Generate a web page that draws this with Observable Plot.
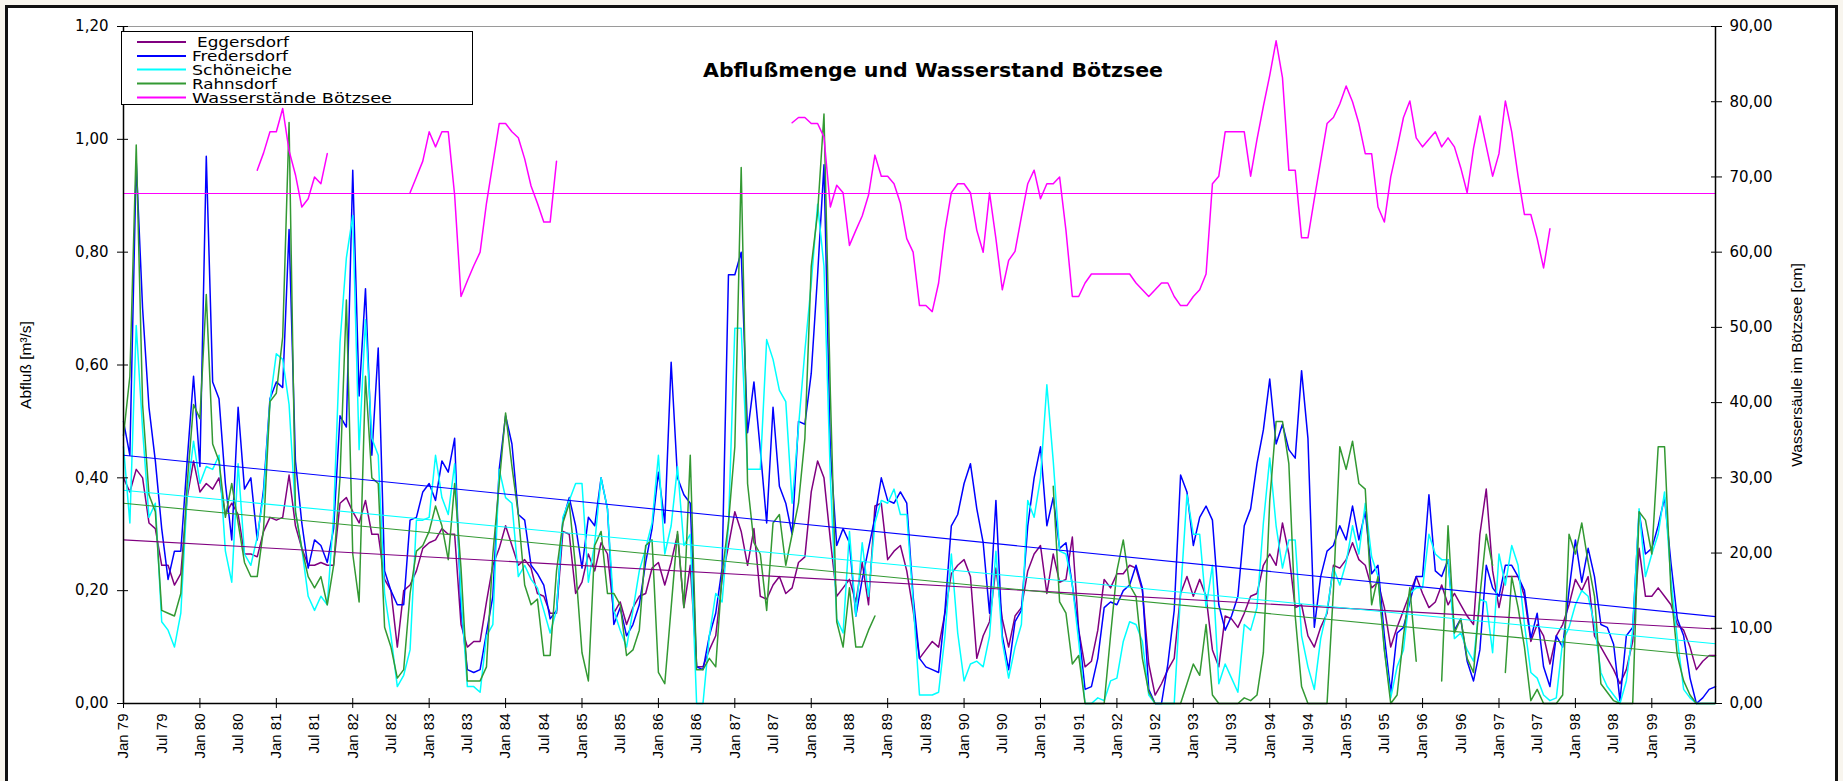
<!DOCTYPE html>
<html>
<head>
<meta charset="utf-8">
<script src="https://cdn.jsdelivr.net/npm/d3@7"></script>
<script src="https://cdn.jsdelivr.net/npm/@observablehq/plot@0.6"></script>
<style>
  html, body { margin: 0; padding: 0; width: 1843px; height: 781px; overflow: hidden; background: #f8f5ee; }
  #frame { position: absolute; left: 5px; top: 5px; width: 1833px; height: 900px; box-sizing: border-box; border: 3px solid #111; background: #fff; }
  #chart { position: absolute; left: 0; top: 0; }
  #overlay { position: absolute; left: 0; top: 0; }
</style>
</head>
<body>
<div id="frame"></div>
<div id="chart"></div>
<script>
// ---------------- data (monthly, Jan 79 .. Nov 99) ----------------
const title = "Abflußmenge und Wasserstand Bötzsee";
const yTitleLeft = "Abfluß [m³/s]";
const yTitleRight = "Wassersäule im Bötzsee [cm]";
const seriesNames = [" Eggersdorf", "Fredersdorf", "Schöneiche", "Rahnsdorf", "Wasserstände Bötzsee"];
const seriesColors = ["#800080", "#0000ff", "#00ffff", "#339933", "#ff00ff"];

const xTickLabels = ["Jan 79","Jul 79","Jan 80","Jul 80","Jan 81","Jul 81","Jan 82","Jul 82","Jan 83","Jul 83",
  "Jan 84","Jul 84","Jan 85","Jul 85","Jan 86","Jul 86","Jan 87","Jul 87","Jan 88","Jul 88","Jan 89","Jul 89",
  "Jan 90","Jul 90","Jan 91","Jul 91","Jan 92","Jul 92","Jan 93","Jul 93","Jan 94","Jul 94","Jan 95","Jul 95",
  "Jan 96","Jul 96","Jan 97","Jul 97","Jan 98","Jul 98","Jan 99","Jul 99"];
const yTicksLeft = [0, 0.2, 0.4, 0.6, 0.8, 1.0, 1.2];
const yTicksRight = [0, 10, 20, 30, 40, 50, 60, 70, 80, 90];

const eggersdorf = [
  0.40,0.375,0.415,0.40,0.32,0.31,0.245,0.245,0.21,0.23,0.365,0.43,
  0.375,0.39,0.38,0.40,0.335,0.355,0.335,0.265,0.265,0.26,0.305,0.33,
  0.325,0.33,0.405,0.315,0.275,0.245,0.245,0.25,0.245,0.245,0.355,0.365,
  0.34,0.32,0.36,0.30,0.30,0.22,0.20,0.10,0.20,0.21,0.235,0.275,
  0.285,0.29,0.31,0.30,0.30,0.14,0.10,0.11,0.11,0.18,0.245,0.275,
  0.315,0.28,0.245,0.255,0.24,0.195,0.19,0.16,0.16,0.305,0.30,0.195,
  0.215,0.265,0.235,0.285,0.265,0.16,0.18,0.14,0.17,0.19,0.195,0.24,
  0.25,0.21,0.25,0.30,0.17,0.245,0.065,0.065,0.095,0.12,0.22,0.28,
  0.34,0.305,0.245,0.31,0.19,0.185,0.21,0.225,0.195,0.205,0.25,0.26,
  0.375,0.43,0.40,0.29,0.19,0.205,0.22,0.18,0.25,0.175,0.35,0.355,
  0.255,0.27,0.28,0.235,0.165,0.08,0.095,0.11,0.10,0.16,0.23,0.245,
  0.255,0.225,0.08,0.12,0.145,0.24,0.15,0.10,0.155,0.17,0.235,0.265,
  0.28,0.195,0.265,0.215,0.22,0.295,0.13,0.065,0.075,0.13,0.22,0.205,
  0.23,0.23,0.245,0.24,0.20,0.07,0.015,0.035,0.06,0.08,0.195,0.225,
  0.19,0.22,0.19,0.095,0.065,0.155,0.15,0.135,0.16,0.19,0.195,0.245,
  0.265,0.245,0.32,0.265,0.17,0.175,0.12,0.10,0.135,0.16,0.245,0.24,
  0.255,0.285,0.255,0.245,0.205,0.215,0.17,0.10,0.135,0.165,0.195,0.225,
  0.195,0.17,0.18,0.21,0.175,0.195,0.175,0.155,0.14,0.30,0.38,0.235,
  0.17,0.225,0.225,0.225,0.19,0.11,0.14,0.12,0.07,0.12,0.14,0.175,
  0.22,0.20,0.225,0.12,0.10,0.08,0.06,0.035,0.06,0.11,0.275,0.19,
  0.19,0.205,0.19,0.175,0.14,0.13,0.10,0.06,0.075,0.085,0.085
];
const fredersdorf = [
  0.50,0.44,0.96,0.70,0.525,0.43,0.31,0.22,0.27,0.27,0.43,0.58,
  0.42,0.97,0.57,0.54,0.39,0.29,0.525,0.38,0.40,0.29,0.38,0.54,
  0.57,0.56,0.84,0.43,0.32,0.24,0.29,0.28,0.25,0.31,0.51,0.49,
  0.945,0.545,0.735,0.44,0.63,0.235,0.20,0.175,0.175,0.325,0.33,0.375,
  0.39,0.36,0.43,0.41,0.47,0.165,0.06,0.055,0.06,0.125,0.19,0.415,
  0.51,0.46,0.335,0.325,0.245,0.23,0.21,0.15,0.165,0.325,0.365,0.315,
  0.24,0.33,0.315,0.40,0.345,0.14,0.17,0.12,0.14,0.175,0.25,0.31,
  0.41,0.32,0.605,0.40,0.37,0.355,0.065,0.06,0.12,0.16,0.24,0.76,
  0.76,0.80,0.48,0.57,0.45,0.32,0.525,0.385,0.355,0.30,0.50,0.495,
  0.585,0.76,0.955,0.45,0.28,0.31,0.285,0.155,0.22,0.275,0.33,0.40,
  0.36,0.355,0.375,0.355,0.19,0.08,0.065,0.06,0.055,0.165,0.315,0.335,
  0.39,0.425,0.345,0.285,0.16,0.36,0.12,0.06,0.145,0.165,0.315,0.40,
  0.455,0.315,0.365,0.275,0.285,0.21,0.13,0.025,0.03,0.08,0.17,0.18,
  0.175,0.20,0.21,0.245,0.205,0.025,0,0,0.07,0.165,0.405,0.375,
  0.28,0.33,0.35,0.325,0.175,0.13,0.155,0.19,0.315,0.345,0.425,0.485,
  0.575,0.46,0.495,0.45,0.435,0.59,0.47,0.135,0.225,0.27,0.28,0.315,
  0.29,0.35,0.29,0.34,0.23,0.245,0.12,0.02,0.125,0.135,0.18,0.225,
  0.225,0.37,0.235,0.225,0.255,0.13,0.15,0.075,0.04,0.095,0.245,0.205,
  0.19,0.245,0.245,0.225,0.20,0.115,0.16,0.065,0.03,0.12,0.10,0.20,
  0.29,0.215,0.275,0.225,0.14,0.135,0.105,0.005,0.12,0.135,0.34,0.265,
  0.275,0.315,0.365,0.25,0.15,0.12,0.045,0,0.01,0.025,0.03
];
const schoeneiche = [
  0.455,0.32,0.67,0.485,0.33,0.355,0.145,0.13,0.10,0.16,0.37,0.465,
  0.39,0.42,0.415,0.44,0.27,0.215,0.425,0.265,0.245,0.295,0.37,0.535,
  0.62,0.61,0.53,0.34,0.275,0.19,0.165,0.19,0.175,0.335,0.64,0.79,
  0.865,0.45,0.68,0.47,0.44,0.195,0.12,0.03,0.05,0.095,0.325,0.325,
  0.33,0.44,0.365,0.335,0.425,0.19,0.03,0.03,0.02,0.12,0.14,0.415,
  0.365,0.355,0.225,0.245,0.22,0.205,0.165,0.125,0.165,0.33,0.36,0.39,
  0.39,0.215,0.285,0.40,0.345,0.165,0.13,0.10,0.165,0.235,0.275,0.32,
  0.44,0.265,0.315,0.42,0.28,0.30,0,0,0.12,0.195,0.18,0.315,
  0.665,0.665,0.415,0.415,0.415,0.645,0.61,0.555,0.535,0.355,0.49,0.625,
  0.745,0.885,0.775,0.40,0.15,0.125,0.305,0.155,0.285,0.19,0.32,0.36,
  0.355,0.38,0.335,0.335,0.18,0.015,0.015,0.015,0.02,0.12,0.265,0.125,
  0.04,0.07,0.075,0.065,0.12,0.27,0.11,0.045,0.10,0.14,0.36,0.33,
  0.40,0.565,0.43,0.27,0.265,0.21,0.11,0,0,0.01,0.005,0.04,
  0.045,0.11,0.145,0.14,0.11,0.015,0,0,0,0,0.195,0.37,
  0.30,0.30,0.17,0.245,0.035,0.07,0.045,0.02,0.14,0.13,0.17,0.32,
  0.435,0.315,0.24,0.29,0.29,0.12,0.065,0.025,0.115,0.165,0.24,0.21,
  0.25,0.315,0.265,0.355,0.26,0.225,0.095,0.01,0.065,0.095,0.195,0.205,
  0.205,0.30,0.265,0.255,0.255,0.115,0.125,0.095,0.075,0.185,0.18,0.09,
  0.265,0.21,0.28,0.245,0.14,0.055,0.045,0.015,0.005,0.01,0.11,0.135,
  0.175,0.20,0.19,0.14,0.055,0.03,0.015,0,0.04,0.13,0.345,0.225,
  0.265,0.30,0.375,0.22,0.115,0.025,0.01,0,0,0,0
];
const rahnsdorf = [
  0.475,0.58,0.99,0.53,0.37,0.34,0.165,0.16,0.155,0.195,0.39,0.53,
  0.505,0.725,0.46,0.43,0.33,0.39,0.32,0.25,0.225,0.225,0.31,0.535,
  0.55,0.65,1.03,0.34,0.275,0.225,0.205,0.225,0.175,0.245,0.40,0.715,
  0.265,0.18,0.58,0.40,0.39,0.135,0.10,0.045,0.06,0.195,0.27,0.28,
  0.305,0.35,0.315,0.255,0.39,0.24,0.04,0.04,0.04,0.065,0.265,0.39,
  0.515,0.42,0.335,0.21,0.175,0.185,0.085,0.085,0.235,0.32,0.355,0.24,
  0.09,0.04,0.28,0.305,0.195,0.195,0.175,0.085,0.095,0.13,0.28,0.29,
  0.055,0.035,0.17,0.305,0.17,0.44,0.06,0.06,0.08,0.065,0.23,0.32,
  0.455,0.95,0.39,0.285,0.265,0.165,0.32,0.335,0.245,0.30,0.355,0.47,
  0.775,0.87,1.045,0.55,0.145,0.10,0.205,0.10,0.10,0.13,0.155,null,
  null,null,null,null,null,null,null,null,null,null,null,null,
  null,null,null,null,null,null,null,null,null,null,null,null,
  null,null,0.385,0.18,0.16,0.07,0.085,0,0,0,0,0.12,
  0.235,0.29,0.21,0.19,0.08,0.02,0,0,0,0,0,0.035,
  0.07,0.05,0.14,0.015,0,0,0,0,0.01,0.005,0.015,0.09,
  0.36,0.50,0.50,0.425,0.155,0.03,0,0,0,0,0.20,0.455,
  0.415,0.465,0.39,0.38,0.175,0.225,0.095,0,0.015,0.12,0.205,0.075,
  null,null,null,0.04,0.315,0.125,0.15,0.08,0.055,0.19,0.30,0.245,
  null,0.055,0.225,0.17,0.10,0.005,0.025,0,0,0,0.015,0.30,
  0.265,0.32,0.25,0.19,0.035,0.02,0.005,0,0,0,0.34,0.325,
  0.265,0.455,0.455,0.20,0.085,0.04,0.015,0,0,0,0
];
// water level of the Bötzsee in cm (right axis); gaps where no readings
const boetzsee = [
  null,null,null,null,null,null,null,null,null,null,null,null,
  null,null,null,null,null,null,null,null,null,70.9,73.2,76.0,
  76.0,79.1,73.5,70.3,66.0,67.1,70.0,69.1,73.1,null,null,null,
  null,null,null,null,null,null,null,null,null,67.9,70.0,72.1,
  76.0,74.0,76.0,76.0,67.6,54.1,56.2,58.2,60.0,66.5,71.8,77.1,
  77.1,76.0,75.2,72.4,68.8,66.5,64.0,64.0,72.1,null,null,null,
  null,null,null,null,null,null,null,null,null,null,null,null,
  null,null,null,null,null,null,null,null,null,null,null,null,
  null,null,null,null,null,null,null,null,null,77.2,77.9,77.9,
  77.1,77.1,75.3,66.0,68.9,67.9,60.9,62.9,64.8,67.6,72.9,70.1,
  70.1,69.1,66.5,61.8,60.0,52.9,52.9,52.1,55.9,62.9,67.9,69.1,
  69.1,67.9,62.9,60.0,67.9,61.8,55.0,58.9,60.1,64.7,69.1,70.9,
  67.1,69.1,69.1,70.0,62.9,54.1,54.1,55.9,57.1,57.1,57.1,57.1,
  57.1,57.1,57.1,55.9,55.0,54.1,55.0,55.9,55.9,54.1,52.9,52.9,
  54.1,55.0,57.1,69.1,70.1,76.0,76.0,76.0,76.0,70.1,75.0,79.4,
  83.5,88.1,83.2,70.9,70.9,61.9,61.9,67.1,72.1,77.1,77.9,79.7,
  82.1,80.0,77.1,73.1,73.1,66.0,64.0,70.0,73.8,77.9,80.1,75.2,
  74.0,75.0,76.0,74.0,75.2,74.0,71.2,67.9,73.8,78.1,74.1,70.1,
  73.1,80.1,76.0,70.1,65.0,65.0,61.8,57.9,63.1,null,null,null,
  null,null,null,null,null,null,null,null,null,null,null,null,
  null,null,null,null,null,null,null,null,null,null,null
];
// trend lines (value at first month, value at last month)
const trendEggersdorf = [0.29, 0.132];
const trendFredersdorf = [0.44, 0.154];
const trendSchoeneiche = [0.378, 0.106];
const trendRahnsdorf = [0.355, 0.083];
const meanBoetzsee = [67.8, 67.8];

// ---------------- build ----------------
const N = 251;
const series = [eggersdorf, fredersdorf, schoeneiche, rahnsdorf, boetzsee];
series.forEach((s, k) => { if (s.length !== N) throw new Error(seriesNames[k] + " has " + s.length); });

const W = 1843, H = 781;
const cmToY = 1.2 / 90;
const fmt2 = d => d.toFixed(2).replace(".", ",");
const rows = (arr, s) => arr.map((v, i) => ({i, v: v == null ? NaN : v * s}));
const trendRows = (t, s) => [{i: 0, v: t[0] * s}, {i: N - 1, v: t[1] * s}];

const lineMarks = [
  Plot.line(rows(eggersdorf, 1), {x: "i", y: "v", stroke: seriesColors[0], strokeWidth: 1.5}),
  Plot.line(rows(fredersdorf, 1), {x: "i", y: "v", stroke: seriesColors[1], strokeWidth: 1.5}),
  Plot.line(rows(schoeneiche, 1), {x: "i", y: "v", stroke: seriesColors[2], strokeWidth: 1.5}),
  Plot.line(rows(rahnsdorf, 1), {x: "i", y: "v", stroke: seriesColors[3], strokeWidth: 1.5}),
  Plot.line(rows(boetzsee, cmToY), {x: "i", y: "v", stroke: seriesColors[4], strokeWidth: 1.5}),
  Plot.line(trendRows(trendEggersdorf, 1), {x: "i", y: "v", stroke: seriesColors[0], strokeWidth: 1.1}),
  Plot.line(trendRows(trendFredersdorf, 1), {x: "i", y: "v", stroke: seriesColors[1], strokeWidth: 1.1}),
  Plot.line(trendRows(trendSchoeneiche, 1), {x: "i", y: "v", stroke: seriesColors[2], strokeWidth: 1.1}),
  Plot.line(trendRows(trendRahnsdorf, 1), {x: "i", y: "v", stroke: seriesColors[3], strokeWidth: 1.1}),
  Plot.line(trendRows(meanBoetzsee, cmToY), {x: "i", y: "v", stroke: seriesColors[4], strokeWidth: 1.1})
];

const yearTicks = d3.range(0, N, 12);
const labelTicks = d3.range(0, N, 6);

const plot = Plot.plot({
  width: W, height: H,
  marginLeft: 123, marginRight: 128, marginTop: 26, marginBottom: 78,
  style: {background: "transparent", fontFamily: "DejaVu Sans", fontSize: "15px", color: "#000", overflow: "visible"},
  x: {type: "linear", domain: [0, N - 1], axis: null},
  y: {type: "linear", domain: [0, 1.2], axis: null},
  marks: [
    Plot.ruleY([1.2], {stroke: "#9a9a9a", strokeWidth: 1}),
    ...lineMarks,
    Plot.ruleX([0], {stroke: "#000", strokeWidth: 1.5}),
    Plot.ruleX([N - 1], {stroke: "#000", strokeWidth: 1.5}),
    Plot.ruleY([0], {stroke: "#000", strokeWidth: 1.5}),
    // tick marks (crossing the axis lines)
    Plot.axisY(yTicksLeft, {anchor: "left", label: null, tickSize: 11, dx: 5, tickFormat: () => "", stroke: "#000"}),
    Plot.axisY(yTicksRight.map(v => v * cmToY), {anchor: "right", label: null, tickSize: 11, dx: -5, tickFormat: () => "", stroke: "#000"}),
    Plot.axisX(yearTicks, {anchor: "bottom", label: null, tickSize: 10, dy: -5, tickFormat: () => "", stroke: "#000"}),
    // tick labels
    Plot.axisY(yTicksLeft, {anchor: "left", label: null, tickSize: 0, tickPadding: 15, tickFormat: fmt2,
      fontFamily: "DejaVu Sans", fontSize: 15, fill: "#000"}),
    Plot.axisY(yTicksRight.map(v => v * cmToY), {anchor: "right", label: null, tickSize: 0, tickPadding: 14,
      tickFormat: d => fmt2(Math.round(d / cmToY)), fontFamily: "DejaVu Sans", fontSize: 15, fill: "#000"}),
    Plot.axisX(labelTicks, {anchor: "bottom", label: null, tickSize: 0, tickPadding: 10, tickRotate: -90,
      tickFormat: d => xTickLabels[d / 6], fontFamily: "Liberation Sans", fontSize: 15, fill: "#000"}),
    // axis titles
    Plot.text([yTitleLeft], {text: d => d, frameAnchor: "left", dx: -97, rotate: -90, textAnchor: "middle",
      fontFamily: "Liberation Sans", fontSize: 15.5, fill: "#000"}),
    Plot.text([yTitleRight], {text: d => d, frameAnchor: "right", dx: 82, rotate: -90, textAnchor: "middle",
      fontFamily: "Liberation Sans", fontSize: 15.5, fill: "#000"})
  ]
});
document.getElementById("chart").appendChild(plot);

// ---------------- title and legend (overlay) ----------------
const ov = d3.select("body").append("svg").attr("id", "overlay")
  .attr("width", W).attr("height", H);
ov.append("text").attr("x", 933).attr("y", 77).attr("text-anchor", "middle")
  .attr("font-family", "DejaVu Sans").attr("font-weight", "bold").attr("font-size", 19.5)
  .attr("textLength", 460).attr("lengthAdjust", "spacingAndGlyphs")
  .attr("fill", "#000").text(title);

const lg = ov.append("g");
lg.append("rect").attr("x", 121.5).attr("y", 31.5).attr("width", 351).attr("height", 73)
  .attr("fill", "#fff").attr("stroke", "#000").attr("stroke-width", 1);
const rowY = [42, 56, 69.5, 83.5, 97.5];
const legendTextWidth = [92, 96, 100, 85, 200];
const legendTextX = [197, 192, 192, 192, 192];
seriesNames.forEach((name, k) => {
  lg.append("line").attr("x1", 137).attr("x2", 186).attr("y1", rowY[k]).attr("y2", rowY[k])
    .attr("stroke", seriesColors[k]).attr("stroke-width", 2);
  lg.append("text").attr("x", legendTextX[k]).attr("y", rowY[k] + 5)
    .attr("font-family", "DejaVu Sans").attr("font-size", 13.5)
    .attr("textLength", legendTextWidth[k]).attr("lengthAdjust", "spacingAndGlyphs")
    .attr("fill", "#000").text(name.trim());
});
</script>
</body>
</html>
